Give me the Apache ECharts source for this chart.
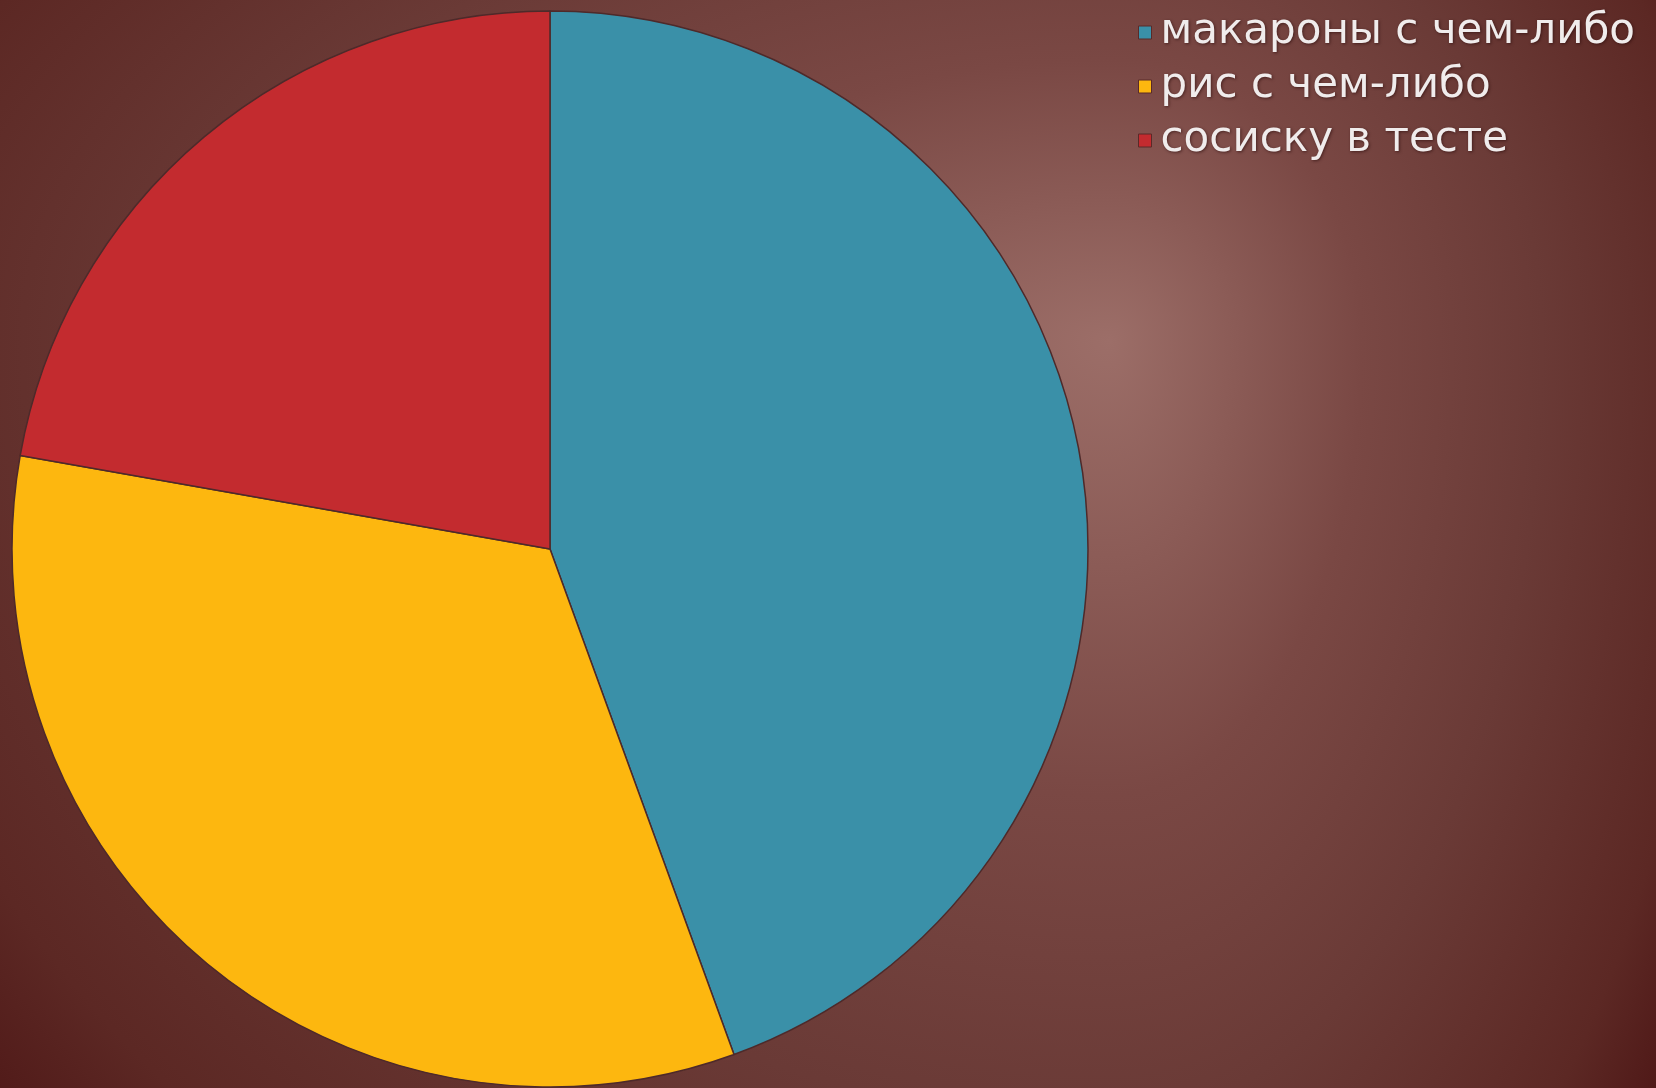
<!DOCTYPE html>
<html>
<head>
<meta charset="utf-8">
<script src="https://cdn.jsdelivr.net/npm/echarts@6/dist/echarts.min.js"></script>
<style>
  html, body { margin: 0; padding: 0; }
  #chart {
    width: 1656px; height: 1088px;
    /* soft spotlight background, brightest to the upper right of the pie;
       built from four quadrant ellipses sharing one centre and one ramp */
    background-color: #4a1212;
    background-image:
      radial-gradient(ellipse 1500px 800px at 1110px 340px, #9c6e68 0%, #7a4844 35%, #6a3a36 60%, #5c2824 85%, #4a1212 100%),
      radial-gradient(ellipse 720px 800px at 0px 340px, #9c6e68 0%, #7a4844 35%, #6a3a36 60%, #5c2824 85%, #4a1212 100%),
      radial-gradient(ellipse 1500px 1300px at 1110px 0px, #9c6e68 0%, #7a4844 35%, #6a3a36 60%, #5c2824 85%, #4a1212 100%),
      radial-gradient(ellipse 720px 1300px at 0px 0px, #9c6e68 0%, #7a4844 35%, #6a3a36 60%, #5c2824 85%, #4a1212 100%);
    background-size: 1110px 340px, 546px 340px, 1110px 748px, 546px 748px;
    background-position: 0px 0px, 1110px 0px, 0px 340px, 1110px 340px;
    background-repeat: no-repeat;
  }
</style>
</head>
<body>
<div id="chart"></div>
<script>
// What the students usually take for lunch
const categories = ['макароны с чем-либо', 'рис с чем-либо', 'сосиску в тесте'];
const values = [8, 6, 4];
const colors = ['#3a90a8', '#fdb70f', '#c32b2f'];

const chart = echarts.init(document.getElementById('chart'), null, { renderer: 'canvas' });

chart.setOption({
  backgroundColor: 'transparent',
  animation: false,
  color: colors,
  legend: {
    orient: 'vertical',
    left: 1133,
    top: 5,
    icon: 'rect',
    itemWidth: 13,
    itemHeight: 13,
    itemGap: 9,
    data: categories,
    itemStyle: { borderColor: '#5a2a28', borderWidth: 1 },
    textStyle: {
      fontFamily: 'DejaVu Sans',
      fontSize: 42,
      lineHeight: 45,
      color: '#f0ecec',
      padding: [0, 0, 0, 4],
      textShadowColor: 'rgba(40,10,10,0.6)',
      textShadowBlur: 3,
      textShadowOffsetX: 1,
      textShadowOffsetY: 1
    }
  },
  series: [{
    type: 'pie',
    center: [550, 549],
    radius: 538,
    startAngle: 90,
    clockwise: true,
    label: { show: false },
    labelLine: { show: false },
    emphasis: { disabled: true },
    itemStyle: { borderColor: '#4e2a2a', borderWidth: 1.5 },
    data: categories.map((name, i) => ({ name, value: values[i] }))
  }]
});
</script>
</body>
</html>
